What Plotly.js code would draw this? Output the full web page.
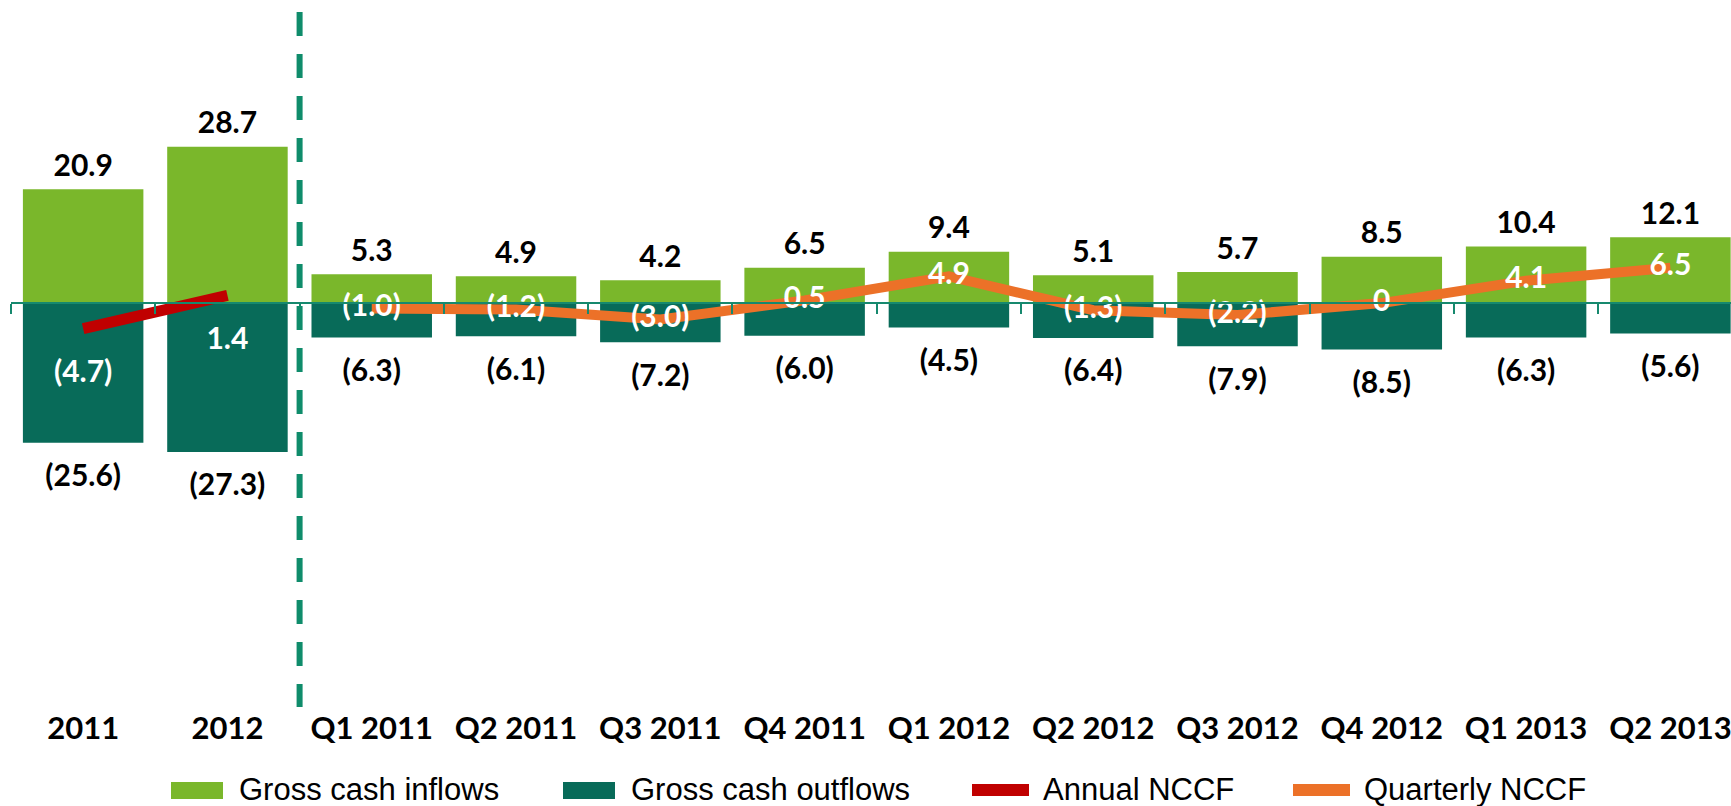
<!DOCTYPE html>
<html>
<head>
<meta charset="utf-8">
<script src="https://cdn.plot.ly/plotly-3.0.1.min.js"></script>
<style>
  html, body { margin: 0; padding: 0; background: #ffffff; }
  #chart { width: 1731px; height: 806px; }
</style>
</head>
<body>
<div id="chart"></div>
<script>
// ---- data ----
const categories = ['2011', '2012', 'Q1 2011', 'Q2 2011', 'Q3 2011', 'Q4 2011',
                    'Q1 2012', 'Q2 2012', 'Q3 2012', 'Q4 2012', 'Q1 2013', 'Q2 2013'];
const grossInflows  = [20.9, 28.7, 5.3, 4.9, 4.2, 6.5, 9.4, 5.1, 5.7, 8.5, 10.4, 12.1];
const grossOutflows = [-25.6, -27.3, -6.3, -6.1, -7.2, -6.0, -4.5, -6.4, -7.9, -8.5, -6.3, -5.6];
const annualCategories = ['2011', '2012'];
const annualNCCF = [-4.7, 1.4];
const quarterlyCategories = ['Q1 2011', 'Q2 2011', 'Q3 2011', 'Q4 2011', 'Q1 2012',
                             'Q2 2012', 'Q3 2012', 'Q4 2012', 'Q1 2013', 'Q2 2013'];
const quarterlyNCCF = [-1.0, -1.2, -3.0, 0.5, 4.9, -1.3, -2.2, 0, 4.1, 6.5];
const seriesNames = ['Gross cash inflows', 'Gross cash outflows', 'Annual NCCF', 'Quarterly NCCF'];

// ---- styling ----
const C_IN = '#7AB72B', C_OUT = '#086B59', C_ANN = '#C00000', C_QTR = '#EC7128';
const C_AXIS = '#16896E', C_DASH = '#0F8C6B';
const LABEL_FONT = {family: 'Lato, "DejaVu Sans", sans-serif', size: 30, color: '#000000', weight: 700};
const WHITE_FONT = {family: 'Lato, "DejaVu Sans", sans-serif', size: 30, color: '#FFFFFF', weight: 700};

function fmt(v) {
  if (v === 0) return '0';
  return v < 0 ? '(' + (-v).toFixed(1) + ')' : v.toFixed(1);
}

const W = 1731, H = 806, ML = 11, MR = 0, MT = 12, MB = 99;
const PW = W - ML - MR, PH = H - MT - MB;
const yRange = [-74.1, 53.4];
const xRange = [-0.5, 11.42];
const px = p => (p - ML) / PW;
const py = p => (MT + PH - p) / PH;

const traces = [
  {type: 'bar', name: seriesNames[0], x: categories, y: grossInflows,
   marker: {color: C_IN}, width: 0.835, showlegend: false, hoverinfo: 'skip'},
  {type: 'bar', name: seriesNames[1], x: categories, y: grossOutflows,
   marker: {color: C_OUT}, width: 0.835, showlegend: false, hoverinfo: 'skip'},
  {type: 'scatter', name: seriesNames[2], x: annualCategories, y: annualNCCF,
   mode: 'lines+markers+text', line: {color: C_ANN, width: 11},
   marker: {size: 48, opacity: 0, color: C_ANN},
   text: annualNCCF.map(fmt), textposition: 'bottom center', textfont: WHITE_FONT,
   cliponaxis: false, showlegend: false, hoverinfo: 'skip'},
  {type: 'scatter', name: seriesNames[3], x: quarterlyCategories, y: quarterlyNCCF,
   mode: 'lines+text', line: {color: C_QTR, width: 10},
   text: quarterlyNCCF.map(fmt), textposition: 'middle center', textfont: WHITE_FONT,
   cliponaxis: false, showlegend: false, hoverinfo: 'skip'},
  // value labels for the bars
  {type: 'scatter', name: 'inflow labels', x: categories, y: grossInflows, xaxis: 'x2',
   mode: 'markers+text', marker: {size: 8, opacity: 0},
   text: grossInflows.map(fmt), textposition: 'top center', textfont: LABEL_FONT,
   cliponaxis: false, showlegend: false, hoverinfo: 'skip'},
  {type: 'scatter', name: 'outflow labels', x: categories, y: grossOutflows, xaxis: 'x2',
   mode: 'markers+text', marker: {size: 32, opacity: 0},
   text: grossOutflows.map(fmt), textposition: 'bottom center', textfont: LABEL_FONT,
   cliponaxis: false, showlegend: false, hoverinfo: 'skip'}
];

const zeroPos = (0 - yRange[0]) / (yRange[1] - yRange[0]);

// custom legend (swatches + text)
const legendItems = [
  {kind: 'rect', color: C_IN,  x0: 171, x1: 223, tx: 237, text: seriesNames[0]},
  {kind: 'rect', color: C_OUT, x0: 563, x1: 615, tx: 629, text: seriesNames[1]},
  {kind: 'line', color: C_ANN, x0: 972, x1: 1029, tx: 1041, text: seriesNames[2]},
  {kind: 'line', color: C_QTR, x0: 1293, x1: 1350, tx: 1362, text: seriesNames[3]}
];
const shapes = [
  {type: 'line', xref: 'x', yref: 'paper', x0: 1.5, x1: 1.5, y0: 1, y1: 0,
   line: {color: C_DASH, width: 6, dash: '24px,18px'}, layer: 'above'}
];
const annotations = [];
legendItems.forEach(it => {
  if (it.kind === 'rect') {
    shapes.push({type: 'rect', xref: 'paper', yref: 'paper',
      x0: px(it.x0), x1: px(it.x1), y0: py(799), y1: py(782),
      fillcolor: it.color, line: {width: 0}});
  } else {
    shapes.push({type: 'line', xref: 'paper', yref: 'paper',
      x0: px(it.x0), x1: px(it.x1), y0: py(790), y1: py(790),
      line: {color: it.color, width: 12}});
  }
  annotations.push({xref: 'paper', yref: 'paper', x: px(it.tx), y: py(789),
    xanchor: 'left', yanchor: 'middle', showarrow: false, text: it.text,
    font: {family: '"Liberation Sans", Arial, sans-serif', size: 31, color: '#000000'}});
});

const layout = {
  width: W, height: H,
  margin: {l: ML, r: MR, t: MT, b: MB, pad: 0},
  paper_bgcolor: '#ffffff', plot_bgcolor: 'rgba(0,0,0,0)',
  barmode: 'relative', showlegend: false, hovermode: false,
  xaxis: {type: 'category', categoryorder: 'array', categoryarray: categories,
    range: xRange, fixedrange: true, showline: false, showgrid: false, zeroline: false,
    ticks: '', tickfont: {family: 'Lato, "DejaVu Sans", sans-serif', size: 31, color: '#000000', weight: 700}},
  xaxis2: {type: 'category', categoryorder: 'array', categoryarray: categories,
    overlaying: 'x', anchor: 'free', position: zeroPos, side: 'bottom',
    range: xRange, fixedrange: true, showgrid: false, zeroline: false,
    showline: true, linecolor: C_AXIS, linewidth: 2,
    ticks: 'outside', tickson: 'boundaries', ticklen: 10, tickwidth: 2, tickcolor: C_AXIS,
    showticklabels: false},
  yaxis: {range: yRange, visible: false, fixedrange: true, showgrid: false, zeroline: false},
  shapes: shapes,
  annotations: annotations
};

Plotly.newPlot('chart', traces, layout, {displayModeBar: false, staticPlot: true});
</script>
</body>
</html>
